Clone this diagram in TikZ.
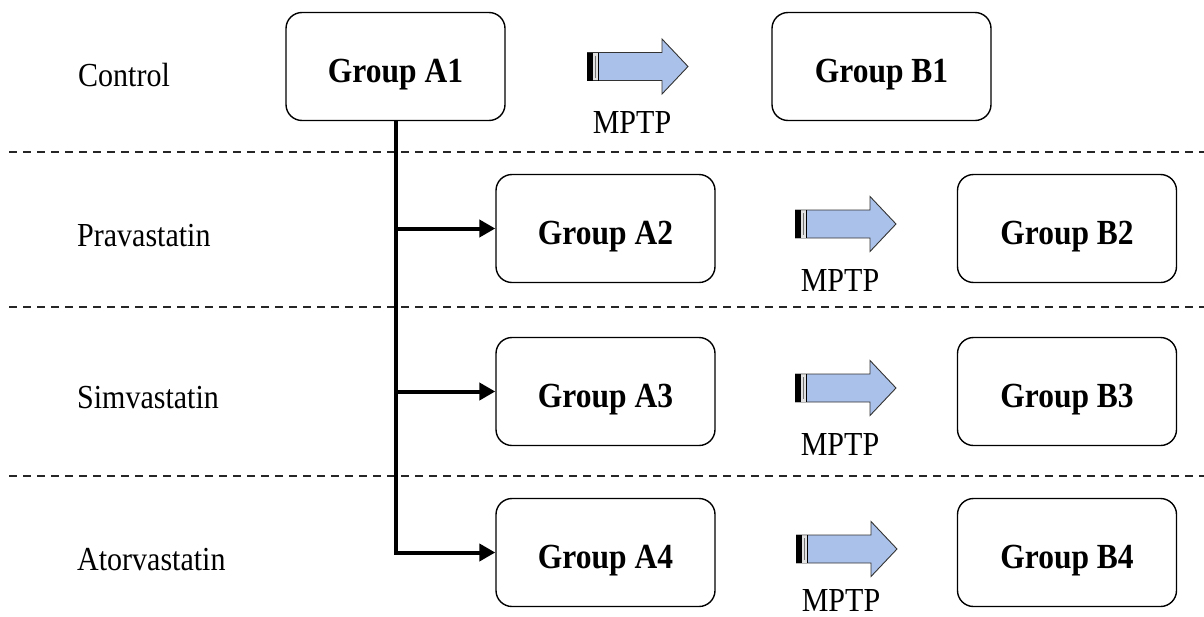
\documentclass[tikz,border=0pt]{standalone}
\usepackage{fontspec}
\setmainfont{Liberation Serif}
\usetikzlibrary{arrows.meta}
\definecolor{mptpblue}{RGB}{170,193,233}
\definecolor{bandgrey}{RGB}{225,225,225}
\newcommand\vstretch[1]{\scalebox{1}[1.12]{#1}}

\begin{document}
\begin{tikzpicture}[x=1pt,y=-1pt,
  grpbox/.style={draw=black, line width=1.4pt, rounded corners=16pt,
    minimum width=219pt, minimum height=108pt, inner sep=0pt},
  grptext/.style={font=\fontsize{31.5}{36}\selectfont\bfseries, anchor=base, inner sep=0pt},
  rowlabel/.style={font=\fontsize{30}{36}\selectfont, anchor=base west, inner sep=0pt},
  druglabel/.style={font=\fontsize{30}{36}\selectfont, anchor=base, inner sep=0pt},
  conn/.style={line width=4pt, line join=miter},
  feed/.style={conn, -{Triangle[length=16pt,width=17pt]}},
  divider/.style={line width=1.8pt, dash pattern=on 8pt off 6pt, draw=black!85},
  mptp/.pic={
    \fill[mptpblue] (12,-14) -- (75,-14) -- (75,-27.5) -- (101,0)
      -- (75,27.5) -- (75,14) -- (12,14) -- cycle;
    \draw[black!80, line width=0.9pt, line join=miter] (0,-14) -- (75,-14)
      -- (75,-27.5) -- (101,0) -- (75,27.5) -- (75,14) -- (0,14);
    \fill[black] (0,-14) rectangle (6,14);
    \fill[bandgrey] (6,-13.5) rectangle (11,13.5);
    \draw[black!55, line width=0.8pt] (8.5,-11) -- (8.5,11);
    \draw[black, line width=1.2pt] (11.5,-14) -- (11.5,14);
  }
]
\useasboundingbox (0,0) rectangle (1204,616);

% section dividers
\draw[divider] (9,152) -- (1204,152);
\draw[divider] (9,307) -- (1204,307);
\draw[divider] (9,476) -- (1204,476);

% row labels
\node[rowlabel] (lc) at (78,86)  {\vstretch{Control}};
\node[rowlabel] (lp) at (77,246) {\vstretch{Pravastatin}};
\node[rowlabel] (ls) at (77,408) {\vstretch{Simvastatin}};
\node[rowlabel] (la) at (77,570) {\vstretch{Atorvastatin}};

% group boxes
\node[grpbox] (A1) at (395.5,66.5)  {};
\node[grpbox] (B1) at (881.5,66.5)  {};
\node[grpbox] (A2) at (605.5,228.5) {};
\node[grpbox] (B2) at (1067,228.5)  {};
\node[grpbox] (A3) at (605.5,391.5) {};
\node[grpbox] (B3) at (1067,391.5)  {};
\node[grpbox] (A4) at (605.5,552.5) {};
\node[grpbox] (B4) at (1067,552.5)  {};

\foreach \g/\t in {A1/Group A1, B1/Group B1, A2/Group A2, B2/Group B2,
                   A3/Group A3, B3/Group B3, A4/Group A4, B4/Group B4}
  \node[grptext] (t\g) at ([yshift=-15.5pt]\g.center) {\vstretch{\t}};

% treatment arrows with labels
\pic at (587,66.5) {mptp};
\pic at (795,224)  {mptp};
\pic at (795,388)  {mptp};
\pic at (796,549)  {mptp};
\node[druglabel] (m1) at (632,133.5) {\vstretch{MPTP}};
\node[druglabel] (m2) at (840,291)   {\vstretch{MPTP}};
\node[druglabel] (m3) at (840,455)   {\vstretch{MPTP}};
\node[druglabel] (m4) at (841,611)   {\vstretch{MPTP}};

% branching connectors
\draw[feed] (A1.south) |- (A4.west);
\draw[feed] (A1.south |- A2.west) -- (A2.west);
\draw[feed] (A1.south |- A3.west) -- (A3.west);
\end{tikzpicture}
\end{document}
